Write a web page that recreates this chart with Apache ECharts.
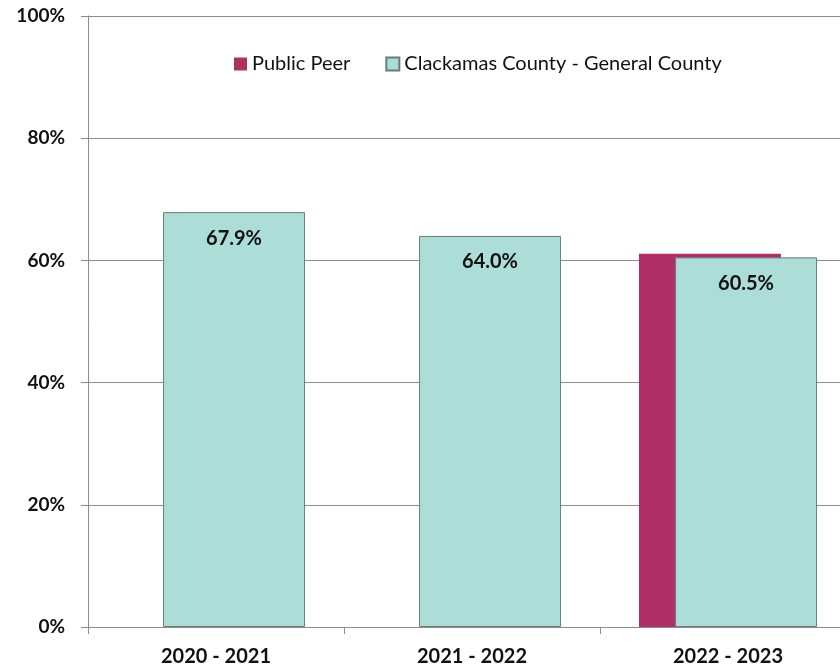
<!DOCTYPE html>
<html>
<head>
<meta charset="utf-8">
<style>
  html, body { margin: 0; padding: 0; background: #ffffff; overflow: hidden; }
  /* the drawing surface is a bit wider than the window, so the plot runs off the right edge */
  #chart { width: 860px; height: 670px; }
</style>
<script src="https://cdn.jsdelivr.net/npm/echarts@6/dist/echarts.min.js"></script>
</head>
<body>
<div id="chart"></div>
<script>
// Fiscal years on the category axis
const categories = ['2020 - 2021', '2021 - 2022', '2022 - 2023'];
// Percent values per series (null = no value reported)
const publicPeer = [null, null, 61.1];
const clackamas = [67.9, 64.0, 60.5];
const seriesNames = ['Public Peer', 'Clackamas County - General County'];

const FONT = 'Lato, "Open Sans", sans-serif';

const chart = echarts.init(document.getElementById('chart'), null, { renderer: 'canvas' });

chart.setOption({
  animation: false,
  backgroundColor: '#ffffff',
  textStyle: { fontFamily: FONT },
  legend: {
    top: 49,
    left: 229,
    itemWidth: 13,
    itemHeight: 13,
    itemGap: 35,
    icon: 'rect',
    textStyle: { fontSize: 20, color: '#111', fontFamily: FONT },
    data: seriesNames
  },
  grid: { left: 88, right: 4, top: 16, bottom: 43, containLabel: false },
  xAxis: {
    type: 'category',
    data: categories,
    axisLine: { lineStyle: { color: '#8c8c8c', width: 1 } },
    axisTick: { show: true, length: 7, lineStyle: { color: '#8c8c8c' } },
    axisLabel: { fontSize: 20, fontWeight: 'bold', color: '#111', margin: 20, fontFamily: FONT }
  },
  yAxis: {
    type: 'value',
    min: 0,
    max: 100,
    interval: 20,
    axisLine: { show: true, lineStyle: { color: '#8c8c8c', width: 1 } },
    axisTick: { show: true, length: 7, lineStyle: { color: '#8c8c8c' } },
    axisLabel: { formatter: '{value}%', fontSize: 19, fontWeight: 'bold', color: '#111', margin: 23, fontFamily: FONT },
    splitLine: { show: true, lineStyle: { color: '#8c8c8c', width: 1 } }
  },
  series: [
    {
      name: seriesNames[0],
      type: 'bar',
      data: publicPeer,
      barWidth: 142,
      barGap: '-74.6%',
      itemStyle: { color: '#B03066' }
    },
    {
      name: seriesNames[1],
      type: 'bar',
      data: clackamas,
      barWidth: 142,
      itemStyle: { color: '#ACDDD6', borderColor: '#6b7b7b', borderWidth: 1 },
      label: {
        show: true,
        position: 'insideTop',
        distance: 16,
        fontSize: 20,
        fontWeight: 'bold',
        color: '#111',
        fontFamily: FONT,
        formatter: p => p.value.toFixed(1) + '%'
      }
    }
  ]
});
</script>
</body>
</html>
